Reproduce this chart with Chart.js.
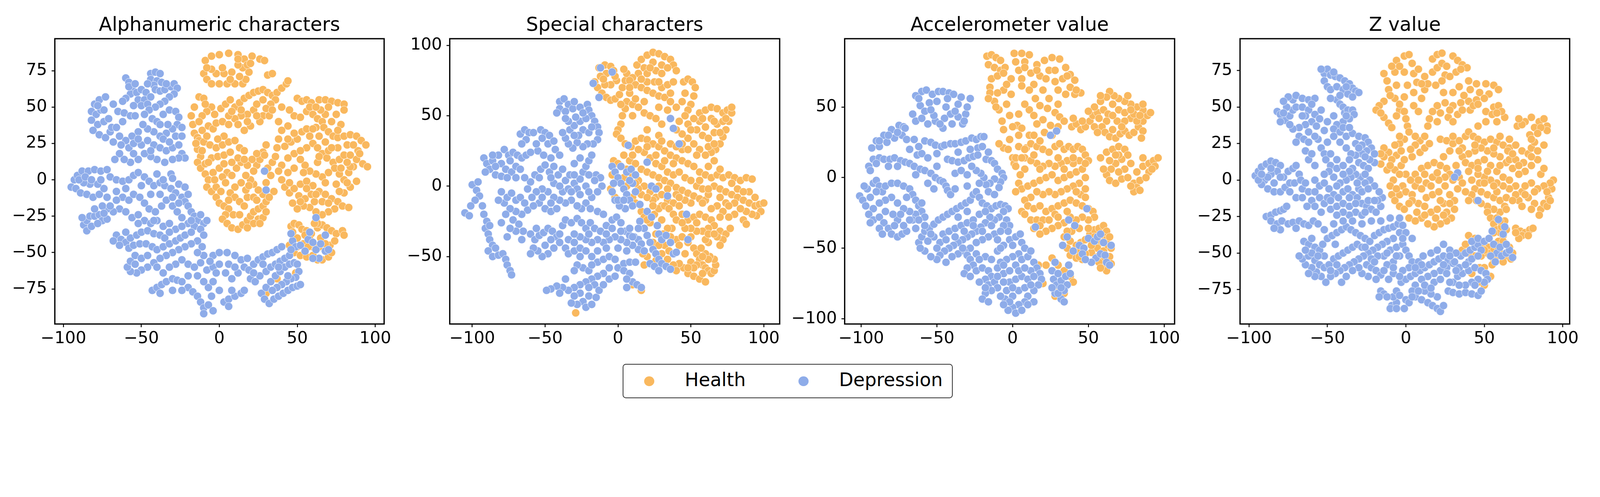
<!DOCTYPE html>
<html>
<head>
<meta charset="utf-8">
<script src="https://cdn.jsdelivr.net/npm/chart.js@4.4.1/dist/chart.umd.min.js"></script>
<style>
  html, body { margin: 0; padding: 0; background: #fff; overflow: hidden; font-family: "DejaVu Sans", sans-serif; }
  #page { position: relative; }
  .panel { position: absolute; top: 0; }
  #legend { position: absolute; box-sizing: border-box; border-style: solid; border-color: #333; }
  .dot { position: absolute; border-radius: 50%; }
  .lab { position: absolute; color: #000; white-space: nowrap; }
</style>
</head>
<body>
<div id="page">
  <div class="panel" id="p0"><canvas id="c0"></canvas></div>
  <div class="panel" id="p1"><canvas id="c1"></canvas></div>
  <div class="panel" id="p2"><canvas id="c2"></canvas></div>
  <div class="panel" id="p3"><canvas id="c3"></canvas></div>
  <div id="legend"></div>
</div>
<script>
// ---- data (t-SNE embeddings) ----
const CLASSES = ["Health", "Depression"];
const TITLES = ["Alphanumeric characters", "Special characters", "Accelerometer value", "Z value"];
const X_TICKS = [-100, -50, 0, 50, 100];
const Y_TICKS_ALNUM = [-75, -50, -25, 0, 25, 50, 75];
const Y_TICKS_SPECIAL = [-50, 0, 50, 100];
const Y_TICKS_ACCEL = [-100, -50, 0, 50];
const Y_TICKS_Z = [-75, -50, -25, 0, 25, 50, 75];

const alnumHealth = [
  [-9,82],[-5,85],[0,86],[6,87],[12,86],[16,83],[21,85],[26,83],[29,82],[-10,73],[-8,69],[-5,66],[0,66],[5,66],[10,66],[15,66],[17,69],[19,74],[15,77],[12,79],[8,74],[3,73],[-2,73],[-5,76],[2,77],[-8,77],[12,83],[18,79],[20,80],[13,71],[7,69],[31,72],[34,73],
  [-13,57],[-10,56],[-16,50],[-18,44],[-17,38],[-16,32],[-14,29],[-11,34],[-7,37],[-4,35],[-2,39],[-3,45],[-5,50],[-8,47],[-11,44],[-13,40],[-9,52],
  [1,49],[4,52],[7,55],[10,50],[13,53],[16,56],[19,58],[22,60],[25,61],[28,62],[31,60],[34,58],[37,60],[40,63],[43,66],[44,68],[36,55],[33,52],[30,49],[28,44],[26,40],[32,44],[22,48],[18,45],[14,44],[10,42],[6,44],[2,40],[20,37],[16,34],[24,52],[28,55],[8,47],[12,38],
  [-13,27],[-10,26],[-6,24],[-2,22],[2,24],[6,26],[10,27],[13,22],[16,20],[-14,21],[-12,16],[-14,12],[-12,8],[-9,4],[-7,0],[-8,-5],[-5,-8],[-2,-5],[-4,5],[0,8],[3,11],[5,5],[2,2],[8,3],[11,8],[14,12],[12,15],[-5,15],[-1,16],[3,17],[7,19],[-9,11],
  [-2,-12],[0,-16],[3,-18],[6,-20],[4,-24],[2,-27],[5,-30],[8,-33],[12,-34],[15,-31],[18,-28],[20,-25],[22,-22],[25,-20],[28,-18],[30,-15],[28,-10],[25,-7],[22,-3],[20,0],[17,3],[14,-2],[10,-5],[7,-9],[10,-12],[13,-15],[16,-18],[18,-12],[22,-12],[25,-27],[22,-30],[18,-33],[9,-24],[13,-24],[6,-14],[17,-7],
  [24,10],[26,14],[28,19],[24,18],[21,14],[30,24],[29,17],[18,10],[22,6],[31,8],[34,12],[36,16],[33,3],[30,-2],[35,-8],[32,-12],[28,-26],[30,-22],
  [50,56],[53,54],[56,55],[59,53],[64,55],[68,55],[72,54],[76,53],[80,52],[80,48],[56,47],[60,45],[63,42],[66,40],[67,36],[70,33],[73,30],[76,29],[80,30],[84,31],[88,30],[91,27],[94,24],[72,40],[68,45],[65,48],[48,44],[52,43],[44,37],[40,34],[38,28],[37,22],[42,23],[46,26],[50,28],[53,33],[56,35],[58,30],[60,25],[63,22],[66,18],[69,15],[73,12],[77,14],[80,17],[84,17],[88,14],[92,11],[95,9],[86,9],[83,5],[80,0],[77,4],[74,8],[70,5],[66,2],[62,4],[58,6],[55,10],[52,14],[48,18],[44,15],[40,10],[38,6],[40,0],[42,-5],[45,-9],[48,-6],[52,-3],[56,-1],[60,-4],[64,-8],[68,-10],[72,-13],[76,-15],[79,-18],[83,-19],[80,-9],[84,-5],[82,-2],[74,-20],[70,-22],[66,-24],[62,-22],[58,-19],[54,-18],[50,-20],[47,-16],[51,-11],[55,-13],[59,-10],[56,22],[52,20],[48,8],[54,5],[63,12],[61,-15],[66,-15],[75,-3],[70,20],[76,22],[82,24],[84,9],[89,20],[64,30],[45,48],[88,-1],[62,36],
  [46,-32],[48,-30],[51,-31],[53,-34],[56,-35],[59,-37],[63,-33],[66,-31],[69,-33],[72,-35],[75,-37],[79,-35],[80,-38],[62,-28],[63,-30],[58,-41],[54,-44],[50,-40],[45,-45],[48,-50],[52,-52],[56,-53],[60,-52],[63,-55],[66,-55],[70,-53],[72,-50],[71,-45],[60,-46],[57,-46],[65,-40],[61,-30],
  [37,-68],[49,-64],[30,-78],[20,-68],
  [-15,25],[-11,20],[-7,12],[-3,0],[1,-8],[4,-2],[8,12],[16,14],[19,-4],[24,-14],[26,-30],[3,30],[-1,28],[6,38],[-8,30],[14,48],[18,40],[24,44],[34,48],[40,50],[38,40],[58,50],[62,50],[70,50],[75,45],[78,38],[86,24],[90,18],[44,28],[48,32],[60,35],[64,16],[72,22],[78,8],[68,-2],[62,-10],[56,-6],[45,-2],[44,5],[52,-15],[70,-16],[77,-8],[82,12],[68,26],[76,34],[64,-46],[68,-44],[74,-42],[55,-38],[50,-46],[47,-36]
];
const alnumDepression = [
  [-44,73],[-41,74],[-38,73],[-44,69],[-40,68],[-37,67],[-42,65],
  [-60,70],[-58,67],[-56,63],[-57,59],[-60,56],[-62,54],
  [-53,60],[-50,62],[-47,60],[-52,55],[-48,55],[-44,57],[-55,51],[-50,51],[-46,52],
  [-41,62],[-38,61],[-35,62],[-31,64],[-29,66],[-27,63],[-29,59],[-32,57],[-35,54],[-38,52],[-41,50],
  [-80,52],[-77,55],[-73,57],[-82,47],[-79,45],[-76,48],[-82,41],[-78,38],[-74,40],[-81,34],[-77,31],[-73,29],[-70,33],[-71,42],[-69,36],[-65,47],[-61,46],[-57,44],
  [-45,48],[-43,42],[-40,40],[-36,45],[-32,48],[-28,47],[-26,43],[-27,38],[-30,35],[-34,32],[-38,30],[-42,33],[-46,35],[-49,38],[-52,33],[-56,30],[-60,27],[-63,24],[-58,22],[-55,25],[-50,24],[-46,27],[-42,24],[-38,22],[-34,20],[-30,22],[-26,24],[-24,18],[-22,15],[-26,15],[-30,14],[-35,12],[-40,14],[-44,16],[-48,18],[-52,14],[-57,12],[-61,14],[-64,18],[-67,14],[-36,28],[-33,38],[-38,38],[-31,4],[-30,1],
  [-95,-5],[-93,0],[-91,3],[-88,6],[-84,6],[-80,7],[-76,6],[-72,7],[-92,-6],[-89,-9],[-85,-10],[-81,-12],[-77,-10],[-74,-6],[-78,-3],[-83,-3],[-87,-2],[-90,0],
  [-70,2],[-66,0],[-62,-1],[-58,0],[-55,3],[-52,5],[-48,2],[-45,-1],[-42,-4],[-38,-2],[-35,-4],[-31,-6],[-28,-9],[-26,-3],[-24,-12],[-22,-15],[-20,-18],[-18,-22],[-16,-25],[-14,-28],[-10,-30],[-8,-28],[-22,-5],[-66,-8],[-62,-12],[-58,-14],[-55,-10],[-51,-12],[-48,-16],[-45,-20],[-41,-22],[-37,-18],[-34,-14],[-30,-18],[-27,-22],[-24,-26],[-20,-30],[-16,-32],[-64,-20],[-60,-22],[-56,-26],[-52,-24],[-48,-28],[-44,-30],[-40,-28],[-36,-32],[-32,-30],[-28,-34],[-68,-22],[-72,-20],[-75,-18],
  [-87,-31],[-85,-28],[-83,-25],[-80,-25],[-77,-24],[-75,-28],[-72,-27],[-85,-35],[-82,-32],[-78,-30],[-74,-23],[-70,-18],
  [-66,-38],[-63,-41],[-60,-43],[-57,-40],[-53,-38],[-50,-36],[-46,-35],[-42,-37],[-38,-38],[-35,-40],[-68,-42],[-64,-45],[-58,-47],[-55,-45],[-51,-44],[-47,-44],[-43,-46],[-40,-48],[-36,-46],[-32,-44],[-28,-42],[-25,-40],[-22,-38],[-18,-36],[-12,-34],[-10,-38],[-14,-42],[-18,-44],[-22,-46],[-26,-48],[-30,-50],[-34,-52],[-38,-54],[-42,-57],[-46,-60],[-50,-62],[-53,-64],[-57,-63],[-59,-60],[-57,-56],[-54,-52],[-50,-54],[-46,-52],[-24,-55],[-20,-58],[-16,-60],[-12,-57],[-10,-52],[-11,-46],[-14,-50],[-28,-58],[-32,-60],
  [-43,-76],[-40,-74],[-37,-72],[-34,-70],[-30,-68],[-27,-69],[-24,-70],[-38,-78],[-20,-74],[-17,-77],[-14,-80],[-12,-84],[-10,-88],[-10,-92],[-7,-86],[-5,-80],[-7,-74],[-4,-70],[-10,-70],[-8,-62],[-4,-60],[0,-58],[-4,-52],[0,-50],[5,-50],[10,-52],[14,-55],[16,-60],[12,-64],[8,-68],[4,-64],[-2,-64],[3,-84],[6,-82],[10,-80],[14,-78],[16,-76],[6,-87],[19,-62],[22,-58],[25,-55],[28,-53],[31,-51],[34,-50],[37,-48],[40,-46],[20,-68],[23,-70],[26,-66],[30,-63],[33,-60],[36,-58],[39,-56],[42,-54],[45,-52],
  [27,-78],[29,-82],[32,-85],[35,-82],[38,-80],[41,-78],[44,-76],[47,-74],[50,-73],[52,-72],[30,-74],[33,-70],[36,-66],[39,-63],[42,-60],[45,-58],[48,-57],[50,-58],[51,-63],[49,-67],[46,-68],[43,-70],[40,-72],[37,-74],
  [47,-42],[49,-46],[52,-45],[55,-49],[57,-41],[60,-43],[62,-48],[65,-44],[68,-49],[70,-48],[62,-26],[68,-38],[46,-37],[58,-36],[64,-54],[60,-54],[29,6],[30,-7],
  [-58,64],[-54,66],[-46,66],[-34,66],[-48,45],[-54,44],[-62,40],[-66,36],[-74,48],[-78,51],[-68,52],[-64,30],[-68,26],[-52,28],[-44,20],[-55,18],[-32,26],[-28,30],[-24,30],[-24,36],[-40,4],[-36,0],[-50,-4],[-44,-10],[-38,-10],[-30,-12],[-60,-6],[-66,-14],[-20,-10],[-26,-16],[-52,-30],[-42,-28],[-32,-36],[-24,-32],[-18,-28],[-12,-24],[-60,-36],[-54,-58],[-40,-60],[-36,-64],[-20,-66],[-14,-66],[-6,-56],[6,-58],[10,-60],[18,-54],[22,-64],[28,-58],[-30,-76],[-24,-76],[-4,-90],[0,-76],[8,-76],[34,-76],[44,-66],[38,-60],[46,-48],[-86,2],[-82,0],[-76,0],[-72,-12],[-80,-20],[-88,-26]
];

const specialHealth = [
  [-13,84],[-9,86],[-5,85],[-3,82],[-8,80],[-12,78],[-16,74],[-14,70],[-11,66],[-8,63],[-5,61],[-2,62],[1,65],[3,70],[5,75],[6,80],[4,83],[-1,75],[-5,72],[-9,72],
  [13,86],[16,90],[20,93],[24,95],[28,94],[32,92],[36,90],[38,86],[40,82],[24,88],[30,86],[18,84],[14,80],[10,77],[20,80],[26,82],
  [8,75],[12,72],[16,70],[20,68],[24,66],[28,64],[32,63],[36,60],[40,56],[8,66],[6,60],[5,55],[3,50],[2,44],[0,40],[-1,37],[10,58],[14,56],[18,52],[22,50],[26,48],[30,44],[12,62],[20,74],[25,74],[18,60],[28,56],[34,54],[36,66],[30,70],[10,50],
  [45,74],[48,76],[51,74],[53,70],[52,64],[50,58],[48,54],[46,66],[44,60],
  [56,52],[60,54],[64,56],[68,55],[72,52],[75,54],[78,52],[76,46],[74,40],[72,35],[70,30],[67,26],[64,24],[60,22],[56,26],[52,30],[48,34],[44,37],[40,40],[42,46],[48,44],[54,40],[58,36],[62,34],[66,38],[68,44],[64,48],[60,42],[56,46],[52,48],[72,46],[62,28],
  [2,34],[5,30],[9,28],[12,32],[16,34],[20,33],[24,30],[28,28],[32,25],[36,22],[40,20],[44,18],[48,16],[52,14],[56,10],[60,8],[4,22],[8,18],[12,16],[16,12],[20,10],[24,8],[28,6],[32,4],[36,2],[40,-1],[44,-3],[48,-5],[52,-7],[56,-9],[60,-10],[18,24],[22,20],[26,16],[30,14],[34,10],[38,8],[42,10],[46,6],[50,4],[54,0],[58,-2],[14,4],[18,0],[22,-4],[26,-8],[30,-6],[34,-10],[38,-12],[42,-14],[26,22],[32,18],[38,16],[44,26],[36,30],[28,36],[20,40],[14,26],[10,8],[30,-14],[24,-10],[16,-6],
  [64,6],[68,8],[72,6],[76,8],[80,6],[84,4],[88,6],[92,5],[66,0],[70,-2],[74,-4],[78,-6],[82,-8],[86,-10],[90,-12],[94,-14],[97,-13],[100,-12],[98,-18],[95,-21],[92,-20],[88,-18],[84,-16],[80,-20],[76,-22],[72,-18],[68,-14],[64,-16],[86,-24],[88,-27],[70,-8],[62,-6],[90,-4],[78,2],
  [44,-20],[48,-24],[52,-22],[56,-20],[60,-22],[64,-24],[66,-28],[62,-30],[58,-32],[54,-32],[50,-36],[48,-40],[52,-44],[54,-48],[56,-52],[58,-56],[60,-58],[62,-60],[64,-62],[66,-60],[67,-56],[66,-52],[63,-50],[60,-48],[57,-44],[70,-32],[74,-34],[77,-30],[72,-38],[45,-58],[48,-62],[52,-64],[56,-66],[60,-68],[42,-55],[50,-54],[54,-56],[46,-48],[62,-40],[68,-36],[70,-42],[60,-38],
  [16,-18],[18,-22],[22,-26],[25,-20],[28,-16],[32,-14],[35,-16],[38,-20],[40,-24],[37,-30],[34,-30],[30,-24],[26,-34],[24,-40],[32,-42],[35,-46],[40,-38],[42,-42],[30,-48],[26,-53],[34,-52],[38,-56],[40,-60],[20,-50],[18,-56],[10,-70],[16,-74],[17,-48],[31,-34],
  [-3,18],[0,16],[-4,8],[-5,-2],[-2,-8],[6,0],[10,-8],[12,-12],[14,-2],[12,2],[4,6],[-29,-90],
  [-10,76],[-2,78],[2,58],[8,70],[16,76],[22,84],[30,80],[34,84],[28,74],[34,72],[38,74],[46,50],[50,40],[58,48],[66,46],[70,38],[74,48],[78,56],[66,30],[44,30],[40,28],[48,26],[54,22],[62,14],[66,18],[70,12],[56,4],[50,-12],[46,-10],[40,-6],[34,-2],[28,0],[20,-8],[24,-14],[10,22],[6,12],[30,32],[20,28],[42,-8],[62,-2],[82,-2],[86,-4],[94,-8],[80,-12],[74,-12],[70,-22],[76,-14],[58,-12],[54,-26],[50,-30],[46,-30],[44,-26],[62,-34],[66,-34],[58,-62],[52,-58],[48,-58],[62,-52],[58,-50],[28,-42],[36,-36],[44,-36],[20,-24]
];
const specialDepression = [
  [-40,60],[-37,62],[-34,58],[-40,55],[-36,53],[-31,55],[-26,56],[-21,58],[-20,54],[-18,50],[-16,46],[-14,42],[-13,38],[-14,33],[-17,30],[-21,30],[-24,28],[-28,31],[-31,27],[-34,30],[-36,34],[-38,38],[-33,40],[-30,43],[-26,46],[-29,49],[-34,46],[-24,40],[-20,38],[-27,36],[-22,48],
  [-67,37],[-64,40],[-61,38],[-63,33],[-66,30],[-53,40],[-50,38],[-47,36],[-52,34],[-48,30],[-44,32],[-55,25],[-51,22],[-46,20],[-43,26],[-40,22],
  [-92,20],[-90,16],[-88,12],[-91,10],[-86,18],[-82,22],[-78,26],[-75,22],[-72,24],[-69,22],[-66,20],[-63,22],[-80,16],[-77,12],[-73,10],[-70,14],[-84,8],[-80,7],[-76,6],[-67,12],
  [-100,1],[-97,-3],[-95,-7],[-98,-10],[-101,-14],[-105,-19],[-102,-21],[-93,-14],[-92,-20],[-90,-25],[-91,-30],[-89,-34],[-88,-38],[-86,-42],[-89,-46],[-86,-50],[-82,-49],[-79,-48],[-77,-52],[-76,-56],[-74,-60],[-73,-63],[-96,3],[-88,-28],[-84,-44],
  [-78,-12],[-76,-8],[-73,-5],[-70,-10],[-67,-8],[-64,-12],[-62,-17],[-66,-20],[-70,-18],[-74,-16],[-77,-20],[-72,-24],[-68,-27],[-65,-32],[-70,-32],[-74,-30],
  [-57,8],[-53,12],[-50,15],[-47,10],[-44,14],[-41,8],[-38,12],[-36,4],[-33,8],[-30,2],[-28,-2],[-26,5],[-24,10],[-22,14],[-20,18],[-18,22],[-15,8],[-12,6],[-11,0],[-14,-4],[-18,-8],[-22,-12],[-25,-16],[-28,-14],[-32,-10],[-36,-12],[-40,-10],[-44,-8],[-48,-4],[-52,-2],[-56,-4],[-59,-8],[-54,-12],[-50,-16],[-46,-18],[-42,-16],[-38,-4],[-34,-2],[-22,0],[-19,-16],[-14,-18],[-10,-20],[-44,2],[-60,3],[-26,20],[-30,16],
  [-60,-34],[-57,-38],[-54,-35],[-51,-33],[-48,-30],[-45,-32],[-42,-36],[-40,-40],[-44,-44],[-48,-48],[-52,-50],[-55,-46],[-58,-44],[-60,-48],[-38,-28],[-36,-24],[-32,-26],[-28,-23],[-25,-26],[-22,-30],[-19,-26],[-16,-30],[-12,-32],[-8,-28],[-4,-24],[-1,-22],[2,-26],[5,-32],[8,-35],[11,-36],[14,-38],[16,-41],[14,-45],[10,-42],[6,-40],[2,-38],[-2,-36],[-6,-38],[-10,-40],[-14,-38],[-18,-40],[-22,-38],[-26,-36],[-30,-34],[-34,-38],[-36,-44],[-34,-48],[-30,-46],[-26,-44],[-22,-46],[-18,-50],[-14,-54],[-10,-52],[-6,-50],[-2,-52],[0,-58],[4,-55],[8,-54],[12,-54],[-6,-58],[-10,-62],[-14,-64],[-18,-66],[-22,-68],[-26,-70],[-30,-72],[-34,-74],[-38,-72],[-42,-71],[-46,-73],[-49,-74],[-24,-58],[-28,-56],[-20,-60],[-16,-70],[-20,-78],[-24,-82],[-28,-84],[-32,-83],[-22,-86],[-18,-84],[-15,-79],[-13,-74],[-26,-76],[10,-68],[13,-70],[16,-72],[6,-72],[4,-60],[8,-62],
  [15,-25],[18,-30],[20,-35],[22,-40],[24,-45],[26,-48],[28,-52],[30,-55],[33,-57],[36,-59],[22,-55],[25,-57],[28,-60],[20,-18],[23,-22],[27,-28],[28,-34],[30,-38],[38,-48],[40,-47],[36,-40],[33,-35],[18,-46],
  [-4,14],[-2,10],[0,6],[2,2],[4,-2],[6,-6],[8,-10],[10,-14],[5,-16],[1,-14],[-2,-10],[-4,-4],[-3,2],[6,10],[9,12],[12,8],[10,2],[12,-4],[8,4],[2,14],
  [-12,84],[-4,81],[-17,73],[-13,63],[7,29],[20,17],[23,0],[26,-2],[34,-7],[42,30],[36,48],[38,41],[47,-20],[48,-38],[15,-13],
  [-30,60],[-24,52],[-18,42],[-30,36],[-36,48],[-42,52],[-58,38],[-56,30],[-60,24],[-86,22],[-84,14],[-74,18],[-70,6],[-64,6],[-54,6],[-46,6],[-40,0],[-32,-4],[-26,-6],[-20,-4],[-16,4],[-20,8],[-30,8],[-46,-12],[-52,-8],[-58,-14],[-62,-2],[-80,-4],[-82,-10],[-80,-26],[-76,-36],[-66,-38],[-56,-30],[-50,-42],[-46,-38],[-40,-34],[-30,-40],[-20,-34],[-8,-34],[-4,-30],[2,-32],[8,-30],[0,-44],[-14,-46],[-26,-50],[-30,-60],[-36,-66],[-10,-70],[-6,-66],[-2,-64],[6,-66],[-30,-78],[-20,-72],[-40,-76],[14,-30],[10,-36],[0,-10],[4,-10],[-8,-44],[-18,-56],[6,-46]
];

const accelHealth = [
  [-17,86],[-14,87],[-11,85],[-8,83],[-16,80],[-12,78],[-8,76],[-5,78],[1,88],[6,88],[11,87],[16,80],[21,83],[26,85],[31,84],[35,78],[38,73],[41,69],[45,60],[28,68],[30,62],[35,59],[41,59],[8,82],[4,76],[12,74],[18,72],[24,76],[-1,70],[6,70],[14,66],[20,62],[11,62],[6,65],[-1,59],[-6,62],[15,56],[33,70],[38,64],
  [-14,70],[-15,64],[-15,60],[-12,54],[-9,48],[-7,40],[-6,34],[-2,27],[-6,21],[-9,24],[0,14],[1,10],[3,37],[6,35],[11,30],[9,21],[8,14],[-11,50],[-16,56],
  [4,45],[11,48],[18,51],[23,49],[28,46],[31,43],[20,41],[25,37],[21,32],[26,30],[8,52],[14,44],[16,38],
  [39,36],[42,38],[45,34],[48,36],[51,40],[53,44],[56,46],[60,48],[63,45],[62,40],[59,36],[61,32],[64,29],[68,28],[71,31],[74,33],[77,30],[80,32],[83,36],[86,40],[89,44],[91,46],[86,48],[82,50],[78,52],[74,54],[70,56],[67,58],[64,61],[62,57],[66,52],[70,48],[74,46],[78,42],[82,40],[58,54],[54,50],[50,47],[57,42],[69,40],[74,40],[80,45],[66,34],[54,36],[86,33],[85,28],
  [58,14],[62,18],[66,20],[70,22],[74,20],[76,16],[72,13],[68,10],[65,6],[62,2],[60,6],[64,-2],[68,-4],[72,-1],[76,0],[80,-4],[82,-7],[80,-10],[84,-9],[84,-2],[82,4],[86,8],[90,10],[93,12],[96,14],[94,8],[90,4],[86,14],[78,10],[74,6],[70,16],
  [4,22],[8,20],[12,24],[16,22],[20,20],[24,18],[28,22],[31,24],[34,20],[37,22],[40,20],[43,22],[46,20],[48,16],[44,12],[40,10],[36,12],[32,10],[28,8],[24,10],[20,8],[16,10],[12,12],[8,6],[5,2],[4,-4],[6,-8],[10,-6],[14,-4],[18,-2],[22,0],[26,2],[30,-2],[34,0],[38,2],[42,4],[46,6],[48,0],[44,-4],[40,-6],[36,-8],[32,-10],[28,-12],[24,-10],[20,-12],[16,-10],[12,-14],[8,-16],[10,-20],[14,-22],[18,-20],[22,-24],[26,-22],[30,-20],[34,-18],[38,-16],[42,-18],[46,-20],[50,-22],[53,-24],[54,-28],[50,-30],[46,-28],[42,-30],[38,-28],[34,-32],[30,-34],[26,-36],[22,-38],[18,-40],[14,-36],[12,-30],[16,-30],[20,-30],[28,-26],[36,-24],[45,-12],[39,-38],[48,-8],[50,12],[6,-24],[2,14],
  [34,-42],[38,-45],[42,-48],[45,-46],[48,-44],[51,-40],[54,-37],[57,-36],[60,-34],[62,-38],[60,-42],[58,-46],[56,-50],[60,-52],[63,-48],[65,-50],[64,-56],[60,-58],[56,-56],[52,-53],[48,-54],[44,-52],[40,-52],[38,-55],[42,-57],[60,-63],[57,-60],[36,-38],[62,-66],[54,-42],[46,-58],[65,-61],
  [26,-57],[30,-62],[34,-66],[38,-70],[40,-74],[30,-78],[28,-84],[34,-82],[22,-62],[17,-62],[20,-75],
  [-10,72],[-6,74],[2,82],[8,78],[16,76],[22,70],[28,76],[36,72],[42,62],[-4,66],[-10,60],[-4,52],[-2,44],[0,36],[-3,20],[4,30],[14,30],[18,26],[30,36],[34,40],[24,56],[30,52],[40,42],[46,40],[56,32],[66,44],[72,36],[78,48],[84,44],[86,52],[76,58],[58,58],[64,12],[68,16],[88,0],[92,6],[78,-6],[70,4],[6,14],[14,16],[30,14],[40,14],[48,10],[2,8],[2,-10],[18,6],[34,6],[42,-10],[48,-14],[30,-28],[24,-30],[18,-34],[8,-26],[44,-36],[50,-36],[36,-50],[44,-56],[52,-48],[56,-44],[62,-44],[64,-42],[58,-64]
];
const accelDepression = [
  [-60,61],[-57,62],[-53,59],[-49,61],[-46,61],[-42,60],[-39,59],[-34,57],[-66,45],[-61,51],[-55,53],[-50,54],[-43,56],[-56,38],[-51,40],[-46,35],[-41,45],[-36,43],[-31,45],[-33,38],[-38,47],[-45,42],[-52,44],[-58,47],[-48,38],[-40,38],
  [-93,21],[-90,26],[-85,30],[-80,34],[-75,37],[-72,36],[-71,35],[-73,30],[-70,27],[-65,27],[-58,26],[-54,25],[-51,23],[-47,22],[-45,23],[-41,24],[-38,24],[-34,25],[-31,26],[-27,28],[-24,27],[-21,29],[-19,29],[-23,21],[-78,28],[-83,25],[-88,22],[-76,32],
  [-95,8],[-94,5],[-92,13],[-88,14],[-85,13],[-81,13],[-78,14],[-74,12],[-71,11],[-68,10],[-65,8],[-61,6],[-58,5],[-54,3],[-51,0],[-48,-2],[-46,-3],[-44,-6],[-43,-9],[-41,-12],[-63,16],[-60,17],[-56,14],[-43,13],[-40,12],[-36,11],[-32,12],[-29,14],[-26,15],[-23,16],[-17.5,13],[-14,12],[-12,10],[-10,6],[-7,3],[-6,0],[-8,-3],[-12,-1],[-15,-4],[-17.5,-5],[-19,0],[-21,3],[-24,5],[-27,8],[-9,-7],[-38,3],[-34,5],[-50,8],[-30,2],
  [-101,-13],[-99,-16],[-97,-20],[-94,-14],[-96,-8],[-92,-4],[-90,-2],[-88,-6],[-86,-10],[-84,-6],[-80,-4],[-76,-4],[-72,-6],[-68,-8],[-66,-12],[-64,-16],[-62,-20],[-60,-24],[-58,-28],[-64,-26],[-68,-24],[-72,-22],[-76,-18],[-80,-14],[-84,-16],[-88,-18],[-92,-22],[-95,-26],[-92,-30],[-88,-28],[-85,-32],[-82,-36],[-80,-40],[-76,-42],[-73,-40],[-70,-38],[-72,-34],[-76,-30],[-79,-26],[-74,-26],[-84,-24],[-88,-36],[-90,-10],[-70,-14],[-66,-30],[-60,-18],
  [-62,-46],[-60,-42],[-58,-38],[-55,-36],[-52,-33],[-49,-30],[-46,-28],[-43,-26],[-40,-24],[-37,-22],[-34,-20],[-31,-18],[-28,-16],[-26,-12],[-24,-10],[-22,-14],[-20,-18],[-17,-20],[-14,-22],[-11,-20],[-8,-19],[-5,-20],[-3,-22],[-6,-24],[-9,-28],[-12,-30],[-15,-28],[-18,-32],[-21,-35],[-24,-38],[-27,-40],[-30,-42],[-33,-44],[-36,-46],[-39,-48],[-42,-50],[-45,-52],[-48,-55],[-50,-58],[-54,-56],[-58,-52],[-61,-50],[-46,-40],[-42,-38],[-38,-36],[-34,-34],[-30,-32],[-26,-30],[-22,-26],[-18,-24],[-52,-42],[-48,-46],[-56,-45],[-4,-30],[-2,-34],[-3,-38],[-6,-34],[-12,-40],[-16,-42],[-20,-44],[-24,-46],[-28,-50],[-32,-52],[-36,-54],[-40,-56],[-44,-60],[-30,-24],[-36,-28],
  [-33,-50],[-30,-55],[-28,-58],[-26,-62],[-30,-64],[-32,-68],[-28,-70],[-24,-66],[-20,-64],[-16,-66],[-14,-70],[-18,-72],[-22,-74],[-16,-76],[-12,-74],[-10,-78],[-14,-80],[-18,-82],[-20,-86],[-16,-88],[-10,-52],[-6,-48],[-2,-44],[2,-42],[5,-40],[6,-46],[8,-50],[4,-54],[0,-56],[-4,-58],[-8,-60],[-10,-64],[-6,-68],[-2,-66],[2,-62],[6,-58],[10,-56],[14,-60],[16,-64],[18,-68],[19,-72],[17,-76],[14,-80],[10,-84],[8,-88],[4,-90],[0,-92],[-3,-94],[2,-96],[6,-94],[-5,-86],[-4,-80],[-2,-74],[2,-72],[6,-70],[10,-72],[12,-66],[4,-80],[14,-88],[-8,-84],[0,-84],[8,-78],[-6,-74],[12,-52],
  [28,-60],[26,-66],[27,-72],[29,-76],[32,-73],[35,-70],[38,-68],[36,-76],[34,-80],[32,-86],[34,-88],[28,-82],[30,-68],[37,-62],[26,-78],
  [36,-42],[40,-52],[44,-48],[47,-50],[50,-43],[54,-45],[56,-42],[58,-40],[55,-57],[58,-54],[61,-55],[62,-60],[64,-62],[60,-46],[65,-48],[52,-60],[46,-54],[48,-58],
  [25,30],[29,33],[15,-35],[37,-30],[41,-34],[49,-22],[33,-48],
  [-64,58],[-62,56],[-44,50],[-36,52],[-30,50],[-28,56],[-64,40],[-60,42],[-54,48],[-32,40],[-88,26],[-82,30],[-68,20],[-62,22],[-50,17],[-36,18],[-28,20],[-20,22],[-16,18],[-90,10],[-82,8],[-76,8],[-64,2],[-56,-4],[-52,-8],[-38,-8],[-30,-6],[-22,-4],[-16,-10],[-12,-12],[-98,-6],[-94,-32],[-86,-40],[-78,-34],[-68,-30],[-62,-30],[-64,-36],[-58,-34],[-54,-40],[-50,-50],[-44,-44],[-38,-42],[-32,-38],[-26,-34],[-20,-38],[-14,-34],[-8,-38],[-10,-44],[-18,-56],[-24,-54],[-22,-58],[-14,-58],[-6,-62],[-18,-78],[-10,-70],[0,-78],[4,-66],[8,-64],[12,-76],[10,-90],[-2,-88],[-6,-90],[14,-70],[-8,-50],[0,-48],[30,-82],[32,-78]
];

const zHealth = [
  [-6,82],[-1,85],[2,86],[-14,73],[-7,74],[-1,74],[5,73],[12,71],[17,74],[20,77],[23,80],[25,72],[23,68],[19,65],[12,62],[5,60],[-1,57],[-7,56],[-14,54],[-17,51],[-19,48],[-14,43],[-11,39],[-9,36],[-4,48],[-1,47],[5,51],[10,56],[-6,65],[-11,62],[1,65],[7,67],[-12,68],[-16,46],[14,66],
  [17,83],[20,86],[23,87],[30,85],[33,82],[36,79],[39,77],[32,74],[28,71],[35,76],[26,78],
  [40,68],[45,66],[51,66],[56,65],[59,62],[53,59],[41,62],[40,54],[35,53],[30,51],[25,53],[20,51],[17,47],[15,42],[14,37],[20,40],[27,43],[33,45],[41,48],[43,51],[22,46],[37,58],[47,60],[28,48],[45,55],
  [51,47],[56,50],[59,51],[63,43],[58,40],[51,40],[46,37],[55,45],[61,47],
  [71,37],[76,40],[80,43],[85,40],[90,37],[90,34],[82,36],[79,31],[74,38],[86,36],
  [1,37],[2,33],[-1,28],[-4,25],[-7,24],[-11,19],[-14,16],[-16,11],[-12,7],[-7,7],[-3,10],[-1,14],[4,16],[9,19],[12,22],[15,25],[9,27],[6,24],[-6,17],[-9,14],[-14,22],[-10,10],[3,21],[-3,20],
  [-8,0],[-10,-4],[-9,-10],[-7,-14],[-4,-18],[-1,-20],[-4,-10],[-2,-4],[0,-8],[4,-10],[6,-4],[3,0],[6,4],[10,8],[14,10],[18,12],[22,10],[26,8],[28,4],[25,2],[21,0],[17,2],[13,-2],[10,-6],[13,-12],[17,-10],[21,-8],[25,-4],[28,-10],[31,-14],[31,-20],[29,-26],[26,-28],[22,-30],[18,-32],[14,-30],[10,-26],[7,-22],[8,-16],[12,-18],[16,-22],[20,-20],[24,-16],[26,-22],[19,-26],[4,-14],[8,0],[30,0],[33,-6],[20,5],[12,4],[2,-16],
  [22,28],[26,27],[30,25],[34,27],[38,30],[40,33],[43,30],[46,28],[50,26],[54,28],[58,26],[62,24],[66,22],[70,24],[74,20],[78,18],[80,22],[82,26],[84,14],[80,10],[76,6],[72,4],[68,8],[64,12],[60,16],[56,18],[52,20],[48,22],[44,20],[40,18],[36,16],[38,12],[42,10],[46,12],[50,14],[54,10],[58,6],[62,2],[66,0],[70,-4],[74,-8],[78,-12],[82,-16],[86,-20],[88,-16],[91,-12],[93,-6],[94,0],[92,-2],[88,-4],[84,-6],[80,-2],[76,-4],[72,-14],[70,-10],[66,-6],[62,-4],[58,-2],[54,0],[50,2],[46,4],[42,0],[44,-6],[48,-8],[52,-10],[56,-12],[60,-14],[63,-18],[60,-22],[56,-20],[52,-18],[48,-16],[45,-14],[42,-10],[58,-8],[66,14],[86,4],[88,8],[74,-18],[80,-20],[85,-24],[90,-18],[70,14],[64,-12],[56,22],[36,22],[47,-2],[75,12],[66,28],[90,-8],[30,30],[60,30],[80,28],[65,20],
  [52,-22],[54,-26],[56,-30],[58,-34],[60,-36],[62,-38],[61,-32],[58,-26],[63,-28],[59,-42],
  [70,-33],[73,-35],[76,-36],[79,-34],[81,-33],[74,-38],[72,-40],
  [40,-38],[44,-40],[47,-42],[50,-44],[53,-46],[56,-48],[60,-50],[64,-52],[67,-54],[68,-50],[66,-46],[62,-44],[58,-45],[52,-50],[48,-52],[44,-52],[40,-50],[36,-48],[38,-44],[62,-56],[56,-54],[47,-60],[55,-58],[50,-72],[52,-66],[46,-70],[42,-64],
  [-9,78],[-4,78],[4,80],[8,76],[10,66],[-10,58],[-4,52],[0,42],[-6,44],[8,47],[24,60],[30,60],[34,64],[46,52],[50,56],[36,48],[30,40],[58,46],[72,42],[88,42],[84,32],[-16,18],[-4,30],[6,30],[12,30],[0,4],[-4,4],[-6,-6],[2,-26],[6,-28],[12,-24],[24,-24],[28,-16],[16,-4],[22,-14],[32,10],[34,2],[36,-2],[38,-8],[40,-14],[52,6],[60,10],[68,18],[72,10],[80,16],[84,20],[88,24],[92,-14],[82,-8],[76,-10],[68,-14],[64,-20],[56,-4],[50,-2],[46,8],[40,6],[44,24],[34,20],[28,20],[24,16],[60,-28],[62,-42],[56,-36],[64,-34],[70,-36],[78,-38],[58,-52],[50,-48],[44,-46],[50,-60],[54,-66]
];
const zDepression = [
  [-52,73],[-50,76],[-48,72],[-45,71],[-42,70],[-39,68],[-36,66],[-34,63],[-32,61],[-30,60],[-52,68],[-50,64],[-48,62],[-44,64],[-40,62],[-37,59],[-34,57],
  [-44,55],[-42,52],[-40,50],[-39,46],[-37,48],[-34,48],[-33,45],[-36,42],[-40,40],[-44,38],[-46,35],[-42,33],[-38,30],[-34,32],[-30,30],[-26,29],[-24,26],[-22,22],[-25,20],[-28,18],[-32,17],[-35,18],[-38,22],[-42,26],[-40,36],[-36,36],[-46,30],
  [-82,47],[-80,45],[-77,41],[-80,40],[-74,44],[-72,48],[-70,50],[-72,55],[-75,57],[-70,58],[-66,56],[-62,55],[-58,56],[-66,50],[-62,48],[-58,45],[-55,42],[-60,40],[-64,38],[-68,36],[-72,35],[-68,30],[-65,28],[-70,26],[-62,33],[-57,37],[-54,48],[-76,50],[-64,44],
  [-54,22],[-52,18],[-51,14],[-48,10],[-44,8],[-40,10],[-36,14],[-30,12],[-27,10],[-24,8],[-20,12],[-23,14],[-58,10],[-62,14],[-64,20],[-60,18],[-56,28],[-50,26],[-32,25],[-28,24],
  [-96,3],[-94,6],[-92,9],[-89,11],[-86,13],[-83,12],[-80,10],[-82,6],[-86,4],[-90,0],[-92,-3],[-88,-6],[-84,-8],[-80,-8],[-77,-5],[-74,-2],[-78,2],[-75,6],[-72,8],[-70,10],[-68,4],[-71,-2],[-66,-6],[-62,-8],[-70,-12],[-67,0],[-88,2],[-84,-2],
  [-58,0],[-55,-4],[-52,-2],[-49,-6],[-46,-10],[-43,-12],[-40,-8],[-37,-6],[-34,-10],[-31,-12],[-28,-16],[-25,-18],[-22,-20],[-19,-22],[-16,-18],[-15,-12],[-17,-8],[-20,-4],[-23,0],[-26,-2],[-29,2],[-32,4],[-35,2],[-38,0],[-42,-2],[-46,2],[-49,6],[-52,4],[-55,-12],[-52,-16],[-48,-20],[-44,-18],[-40,-16],[-36,-18],[-32,-22],[-28,-24],[-24,-14],[-18,-14],[-30,-6],[-60,-14],[-63,-18],[-58,-18],[-54,-22],[-36,-24],[-40,-22],[-44,-24],[-34,8],[-31,-2],
  [-89,-25],[-86,-24],[-83,-22],[-80,-21],[-78,-20],[-76,-18],[-86,-28],[-82,-30],[-79,-28],[-75,-30],[-72,-29],[-68,-28],[-65,-30],[-62,-31],[-70,-33],[-80,-34],[-84,-33],[-59,-28],
  [-65,-42],[-62,-44],[-60,-40],[-58,-46],[-55,-48],[-53,-44],[-50,-40],[-47,-38],[-44,-36],[-41,-34],[-38,-32],[-35,-34],[-32,-36],[-29,-38],[-26,-40],[-23,-42],[-20,-38],[-17,-36],[-14,-34],[-11,-33],[-8,-32],[-5,-30],[-2,-31],[-4,-36],[-8,-40],[-12,-42],[-15,-44],[-18,-46],[-21,-48],[-24,-50],[-27,-52],[-30,-54],[-33,-56],[-36,-58],[-39,-60],[-42,-62],[-45,-64],[-48,-66],[-51,-70],[-54,-66],[-57,-63],[-60,-60],[-64,-58],[-66,-54],[-68,-52],[-62,-52],[-58,-55],[-55,-58],[-52,-60],[-49,-58],[-46,-54],[-43,-52],[-40,-50],[-37,-48],[-34,-46],[-31,-44],[-28,-46],[-25,-58],[-22,-60],[-19,-62],[-16,-65],[-19,-68],[-24,-66],[-28,-64],[-41,-70],[-38,-66],[-45,-44],[-52,-52],[-60,-50],[-10,-48],[-6,-46],[-2,-44],[0,-48],[-4,-52],[-8,-56],[-12,-58],[2,-52],[4,-56],[-14,-52],
  [-16,-76],[-14,-78],[-17,-80],[-9,-86],[-6,-84],[-8,-80],[-6,-76],[-4,-79],[0,-82],[2,-84],[-1,-88],[-10,-88],[-3,-70],[0,-68],[3,-66],[6,-64],[9,-62],[12,-60],[15,-58],[18,-56],[21,-54],[24,-52],[27,-55],[30,-57],[26,-60],[22,-62],[18,-64],[14,-66],[10,-68],[6,-72],[4,-76],[6,-80],[10,-82],[14,-84],[17,-86],[20,-88],[22,-90],[24,-86],[20,-80],[16,-78],[12,-76],[18,-70],[22,-68],[2,-60],[8,-56],[11,-52],[-2,-62],[-8,-64],[-11,-68],[24,-44],[28,-48],[16,-50],
  [27,-76],[30,-77],[34,-78],[38,-77],[42,-78],[46,-79],[48,-76],[30,-70],[33,-66],[36,-64],[40,-62],[44,-60],[48,-62],[51,-64],[52,-68],[50,-70],[46,-68],[42,-70],[38,-72],[34,-60],[31,-56],[35,-52],[38,-50],[41,-48],[44,-46],[46,-44],[40,-56],[32,-50],
  [42,-42],[46,-40],[50,-42],[53,-40],[56,-44],[58,-50],[61,-52],[64,-50],[66,-48],[68,-53],[60,-46],[62,-37],[64,-44],[48,-48],[54,-52],[57,-56],[55,-35],[63,-32],[59,-27],
  [33,5],[46,-14],[31,2],
  [-54,76],[-46,74],[-38,64],[-42,58],[-48,56],[-46,44],[-50,40],[-52,34],[-38,44],[-30,22],[-26,16],[-20,18],[-78,54],[-78,46],[-74,38],[-66,44],[-60,52],[-58,30],[-62,26],[-48,18],[-44,14],[-36,6],[-40,4],[-26,4],[-94,0],[-92,4],[-86,8],[-80,2],[-74,-8],[-66,-12],[-64,-2],[-58,-8],[-50,-12],[-44,-4],[-36,-12],[-28,-8],[-24,-6],[-20,-14],[-26,-22],[-32,-16],[-48,-14],[-56,-30],[-52,-34],[-46,-30],[-40,-28],[-34,-28],[-28,-30],[-22,-28],[-16,-28],[-10,-26],[-4,-26],[0,-36],[4,-40],[-2,-40],[-6,-52],[-12,-50],[-18,-52],[-22,-54],[-30,-60],[-34,-62],[-44,-58],[-48,-62],[-58,-66],[-62,-64],[-56,-52],[-64,-48],[-26,-46],[-20,-56],[-14,-62],[-8,-60],[-4,-66],[-12,-80],[-6,-88],[4,-80],[8,-76],[12,-72],[16,-74],[26,-64],[28,-70],[32,-62],[38,-58],[42,-54],[46,-52],[44,-72],[34,-72],[28,-52],[20,-48],[24,-58],[10,-58],[6,-60]
];

// ---- styling / layout (in reference pixels, scaled to the real viewport) ----
const S = Math.min(window.innerWidth / 5000, window.innerHeight / 1273) || 1;
const px = v => v * S;
const HEALTH_COLOR = "rgb(249,184,94)";
const DEPRESSION_COLOR = "rgb(142,172,233)";
const Y_AXIS_W = 175, X_AXIS_H = 110, RIGHT_PAD = 60;
const FRAME_BOTTOM = 1013;

const panels = [
  { health: alnumHealth, depression: alnumDepression, yTicks: Y_TICKS_ALNUM, xMin: -105.5, xMax: 105.7, yMin: -99.1, yMax: 97.0, left: 171, right: 1200 },
  { health: specialHealth, depression: specialDepression, yTicks: Y_TICKS_SPECIAL, xMin: -115.4, xMax: 110.9, yMin: -97.9, yMax: 104.7, left: 1405, right: 2436 },
  { health: accelHealth, depression: accelDepression, yTicks: Y_TICKS_ACCEL, xMin: -110.9, xMax: 106.9, yMin: -103.7, yMax: 98.4, left: 2640, right: 3671 },
  { health: zHealth, depression: zDepression, yTicks: Y_TICKS_Z, xMin: -105.7, xMax: 104.4, yMin: -98.6, yMax: 96.9, left: 3875, right: 4904 }
];

const page = document.getElementById("page");
page.style.width = px(5000) + "px";
page.style.height = px(1273) + "px";

const fmt = v => (v < 0 ? "\u2212" + Math.abs(v) : String(v));
const toXY = arr => arr.map(p => ({ x: p[0], y: p[1] }));

// closed black box around the plotting area
const frameBox = {
  id: "frameBox",
  afterDatasetsDraw(chart) {
    const a = chart.chartArea, ctx = chart.ctx;
    ctx.save();
    ctx.strokeStyle = "#000";
    ctx.lineWidth = px(4);
    ctx.strokeRect(a.left, a.top, a.right - a.left, a.bottom - a.top);
    ctx.restore();
  }
};

panels.forEach((p, i) => {
  const box = document.getElementById("p" + i);
  box.style.left = px(p.left - Y_AXIS_W) + "px";
  box.style.width = px(p.right - p.left + Y_AXIS_W + RIGHT_PAD) + "px";
  box.style.height = px(FRAME_BOTTOM + X_AXIS_H) + "px";

  const gridOpts = { display: true, drawOnChartArea: false, drawTicks: true, tickLength: px(10), tickWidth: px(3), tickColor: "#000" };
  const tickFont = { family: "DejaVu Sans", size: px(52) };
  const dotStyle = { borderColor: "rgba(255,255,255,0.85)", borderWidth: px(1.2), pointRadius: px(12.5) };

  new Chart(document.getElementById("c" + i), {
    type: "scatter",
    data: {
      datasets: [
        Object.assign({ label: CLASSES[0], data: toXY(p.health), backgroundColor: HEALTH_COLOR, order: 1 }, dotStyle),
        Object.assign({ label: CLASSES[1], data: toXY(p.depression), backgroundColor: DEPRESSION_COLOR, order: 0 }, dotStyle)
      ]
    },
    options: {
      responsive: true,
      maintainAspectRatio: false,
      animation: false,
      events: [],
      layout: { padding: { left: 0, top: 0, bottom: 0, right: px(RIGHT_PAD) } },
      plugins: {
        legend: { display: false },
        tooltip: { enabled: false },
        title: {
          display: true,
          fullSize: false,
          text: TITLES[i],
          color: "#000",
          font: { family: "DejaVu Sans", size: px(60), weight: "normal", lineHeight: 1.2 },
          padding: { top: px(45), bottom: px(4) }
        }
      },
      scales: {
        x: {
          type: "linear",
          min: p.xMin, max: p.xMax,
          border: { display: false },
          grid: gridOpts,
          afterBuildTicks: s => { s.ticks = X_TICKS.map(v => ({ value: v })); },
          afterFit: s => { s.height = px(X_AXIS_H); },
          ticks: { autoSkip: false, maxRotation: 0, padding: px(5), color: "#000", font: tickFont, callback: fmt }
        },
        y: {
          type: "linear",
          min: p.yMin, max: p.yMax,
          border: { display: false },
          grid: gridOpts,
          afterBuildTicks: s => { s.ticks = p.yTicks.map(v => ({ value: v })); },
          afterFit: s => { s.width = px(Y_AXIS_W); },
          ticks: { autoSkip: false, padding: px(14), color: "#000", font: tickFont, callback: fmt }
        }
      }
    },
    plugins: [frameBox]
  });
});

// ---- legend below the panels ----
const LEG = { left: 1946, top: 1138, w: 1031, h: 107, border: 3.5 };
const legend = document.getElementById("legend");
Object.assign(legend.style, {
  left: px(LEG.left) + "px", top: px(LEG.top) + "px", width: px(LEG.w) + "px", height: px(LEG.h) + "px",
  borderWidth: px(LEG.border) + "px", borderRadius: px(10) + "px"
});
const legendItems = [
  { name: CLASSES[0], color: HEALTH_COLOR, dotX: 2030, textX: 2141 },
  { name: CLASSES[1], color: DEPRESSION_COLOR, dotX: 2512, textX: 2623 }
];
legendItems.forEach(it => {
  const d = document.createElement("span");
  d.className = "dot";
  Object.assign(d.style, {
    background: it.color, width: px(31) + "px", height: px(31) + "px",
    left: px(it.dotX - 15.5 - LEG.left - LEG.border) + "px",
    top: px(1193 - 15.5 - LEG.top - LEG.border) + "px"
  });
  legend.appendChild(d);
  const t = document.createElement("span");
  t.className = "lab";
  t.textContent = it.name;
  Object.assign(t.style, {
    fontSize: px(58) + "px", lineHeight: px(58) + "px",
    left: px(it.textX - LEG.left - LEG.border) + "px",
    top: px(1159 - LEG.top - LEG.border) + "px"
  });
  legend.appendChild(t);
});
</script>
</body>
</html>
